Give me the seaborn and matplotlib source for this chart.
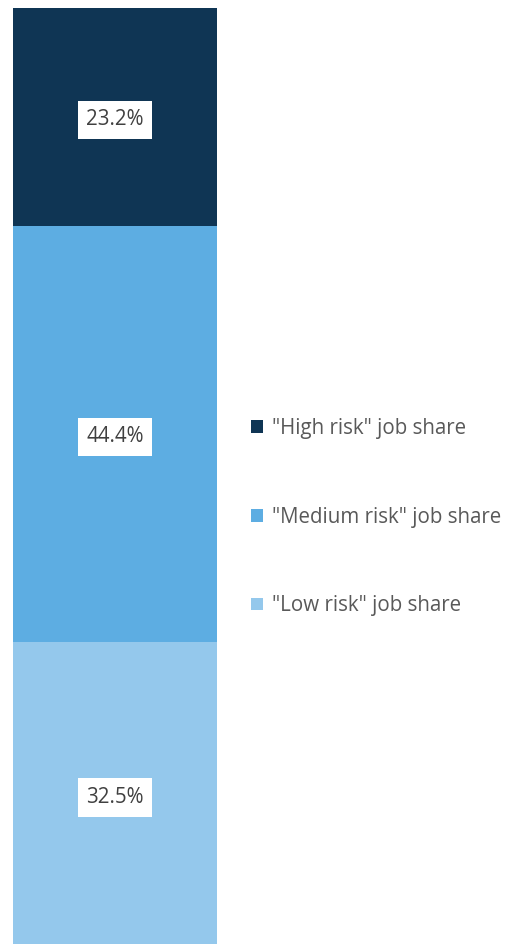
import matplotlib
matplotlib.use("Agg")
import matplotlib.pyplot as plt
import seaborn as sns
import pandas as pd

# job share by automation risk (bottom to top)
categories = ['"Low risk" job share', '"Medium risk" job share', '"High risk" job share']
shares = [32.5, 44.4, 23.2]
colors = ["#94C8EC", "#5DADE2", "#0F3554"]
labels = ["32.5%", "44.4%", "23.2%"]

sns.set_style("white")
plt.rcParams['font.family'] = ['Open Sans', 'DejaVu Sans']

fig = plt.figure(figsize=(5.10, 9.44), dpi=100)
# bar runs a little past the bottom edge of the image
ax = fig.add_axes([13 / 510, -3 / 944, 204 / 510, 939 / 944])

bottom = 0
for cat, val, col, lab in zip(categories, shares, colors, labels):
    df = pd.DataFrame({"x": ["bar"], "y": [val]})
    sns.barplot(data=df, x="x", y="y", color=col, bottom=bottom, width=1.0,
                label=cat, ax=ax, saturation=1, linewidth=0)
    ax.annotate(lab, (0, bottom + val / 2), xytext=(0, -3), textcoords="offset pixels",
                ha="center", va="center", fontsize=14.8, color="#404040",
                bbox=dict(boxstyle="square,pad=0.42", facecolor="white", edgecolor="none"))
    bottom += val

ax.set_xlim(-0.5, 0.5)
ax.set_ylim(0, sum(shares))
ax.axis("off")

handles, leg_labels = ax.get_legend_handles_labels()
if ax.get_legend() is not None:
    ax.get_legend().remove()
fig.legend(handles[::-1], leg_labels[::-1], loc="center left",
           bbox_to_anchor=(251 / 510, 1 - 517 / 944), frameon=False,
           fontsize=14.8, labelcolor="#595959", handlelength=0.58, handleheight=0.58,
           handletextpad=0.45, labelspacing=3.3, borderpad=0, borderaxespad=0)

fig.savefig("out.png", dpi=100)
